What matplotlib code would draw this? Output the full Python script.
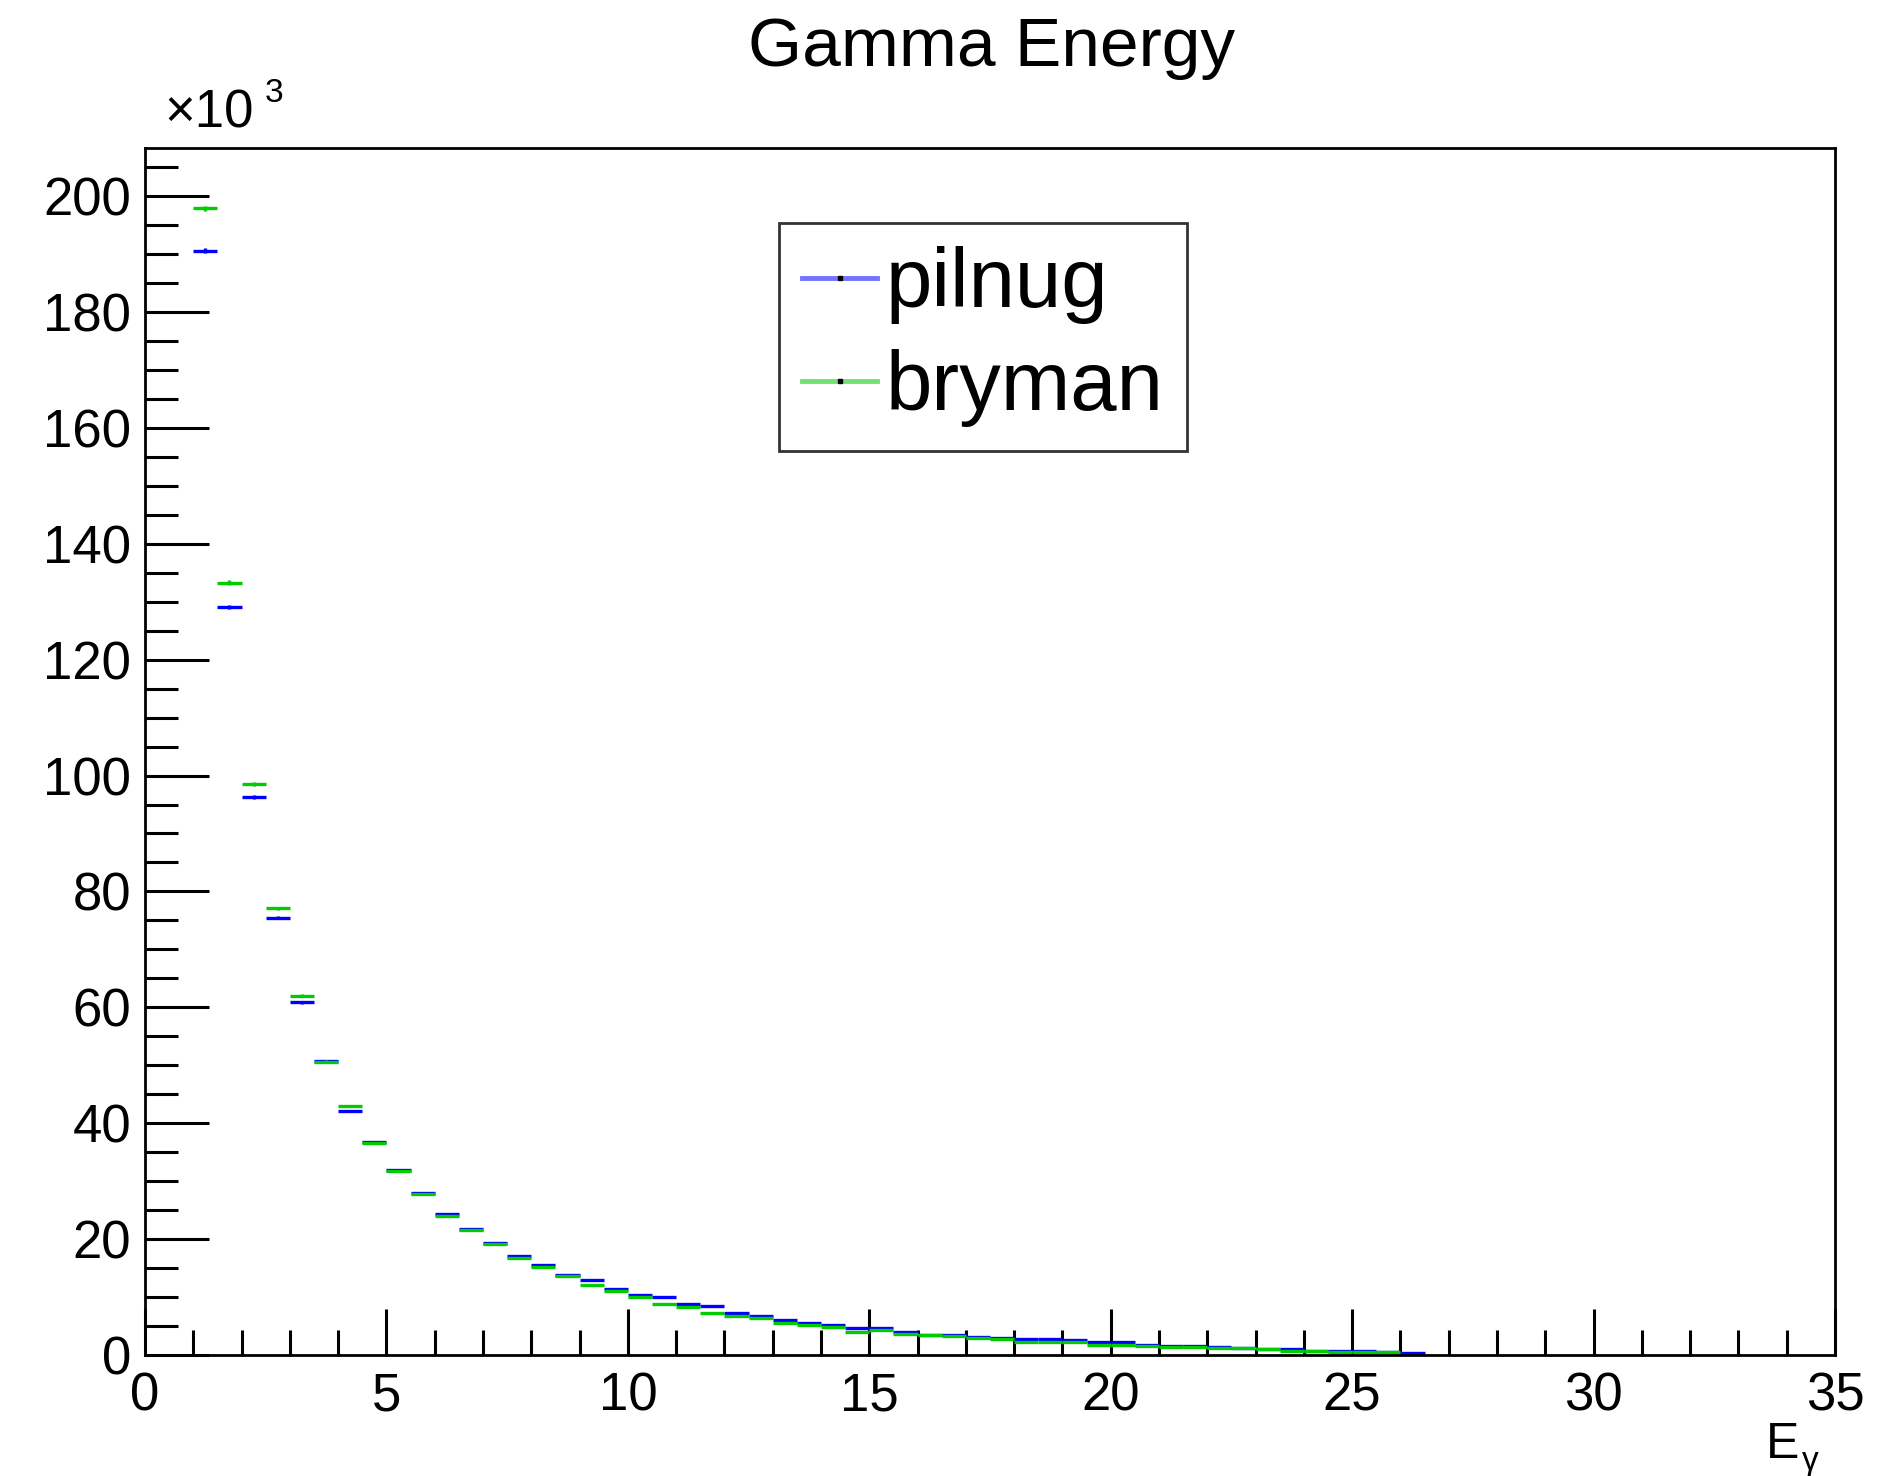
import numpy as np
import matplotlib
matplotlib.use("Agg")
import matplotlib.pyplot as plt
from matplotlib.lines import Line2D
from matplotlib.ticker import MultipleLocator, FuncFormatter

plt.rcParams['font.family'] = ['Liberation Sans', 'DejaVu Sans']

# histogram binning (GeV), 0.5 wide bins starting at 1.0
bin_lo = 1.0
bin_w = 0.5

# counts per bin, in thousands
pilnug = [190.6, 129.1, 96.3, 75.5, 60.9, 50.7, 42.1, 36.7, 31.9, 28.0,
          24.3, 21.7, 19.3, 17.1, 15.5, 13.8, 12.9, 11.3, 10.3, 10.0,
          8.8, 8.4, 7.2, 6.8, 6.0, 5.6, 5.2, 4.6, 4.6, 4.0,
          3.5, 3.5, 3.1, 3.0, 2.7, 2.7, 2.6, 2.3, 2.2, 1.7,
          1.55, 1.55, 1.3, 1.2, 1.0, 1.0, 0.7, 0.6, 0.6, 0.5,
          0.4]
bryman = [197.9, 133.3, 98.5, 77.1, 62.0, 50.6, 43.0, 36.6, 31.75, 27.7,
          24.0, 21.5, 19.2, 16.8, 15.2, 13.6, 12.0, 11.0, 10.0, 8.8,
          8.2, 7.2, 6.8, 6.4, 5.6, 5.1, 4.9, 4.0, 4.3, 3.7,
          3.5, 3.2, 2.9, 2.7, 2.3, 2.3, 2.3, 1.8, 1.8, 1.6,
          1.4, 1.3, 1.25, 1.2, 1.0, 0.6, 0.6, 0.55, 0.5, 0.45]

series = [("pilnug", pilnug, "#0000ff", (0.45, 0.45, 1.0)),
          ("bryman", bryman, "#00cc00", (0.45, 0.88, 0.45))]

fig = plt.figure(figsize=(19, 14.76), dpi=100)
ax = fig.add_axes([0.0763, 0.0820, 0.8895, 0.8177])

for name, vals, col, _ in series:
    counts = np.array(vals) * 1000.0
    centers = bin_lo + bin_w * (np.arange(len(counts)) + 0.5)
    ax.errorbar(centers, counts, xerr=bin_w / 2, yerr=np.sqrt(counts),
                fmt="none", ecolor=col, elinewidth=2.4, capsize=0)

ax.set_xlim(0, 35)
ax.set_ylim(0, 208300)

ax.xaxis.set_major_locator(MultipleLocator(5))
ax.xaxis.set_minor_locator(MultipleLocator(1))
ax.yaxis.set_major_locator(MultipleLocator(20000))
ax.yaxis.set_minor_locator(MultipleLocator(5000))
ax.yaxis.set_major_formatter(FuncFormatter(lambda v, p: "%d" % round(v / 1000)))

ax.tick_params(which="both", direction="in", top=False, right=False,
               width=2.2, labelsize=38, colors="black")
ax.tick_params(axis="x", which="major", length=33, pad=12)
ax.tick_params(axis="x", which="minor", length=18)
ax.tick_params(axis="y", which="major", length=46, pad=10)
ax.tick_params(axis="y", which="minor", length=24)
for s in ax.spines.values():
    s.set_linewidth(2)

fig.text(0.522, 0.9675, "Gamma Energy", ha="center", va="center", fontsize=50)
fig.text(164 / 1900, 1 - 128 / 1476, "×10", ha="left", va="baseline", fontsize=38)
fig.text(265 / 1900, 1 - 102 / 1476, "3", ha="left", va="baseline", fontsize=24)
fig.text(1766 / 1900, 1 - 1458 / 1476, "E", ha="left", va="baseline", fontsize=36)
fig.text(1802 / 1900, 1 - 1470 / 1476, "γ", ha="left", va="baseline", fontsize=24)

handles = [Line2D([0], [0], color=lc, lw=3.5, marker="s", markersize=2.5,
                  markerfacecolor="k", markeredgecolor="k")
           for _, _, _, lc in series]
leg = ax.legend(handles, [s[0] for s in series], loc="upper left",
                bbox_to_anchor=(0.375, 0.938), borderaxespad=0, fontsize=60,
                frameon=True, fancybox=False, edgecolor="black",
                handlelength=0.9, handletextpad=0.1, borderpad=0.28,
                labelspacing=0.3)
leg.get_frame().set_linewidth(2)

fig.savefig("out.png", dpi=100, facecolor="white")
